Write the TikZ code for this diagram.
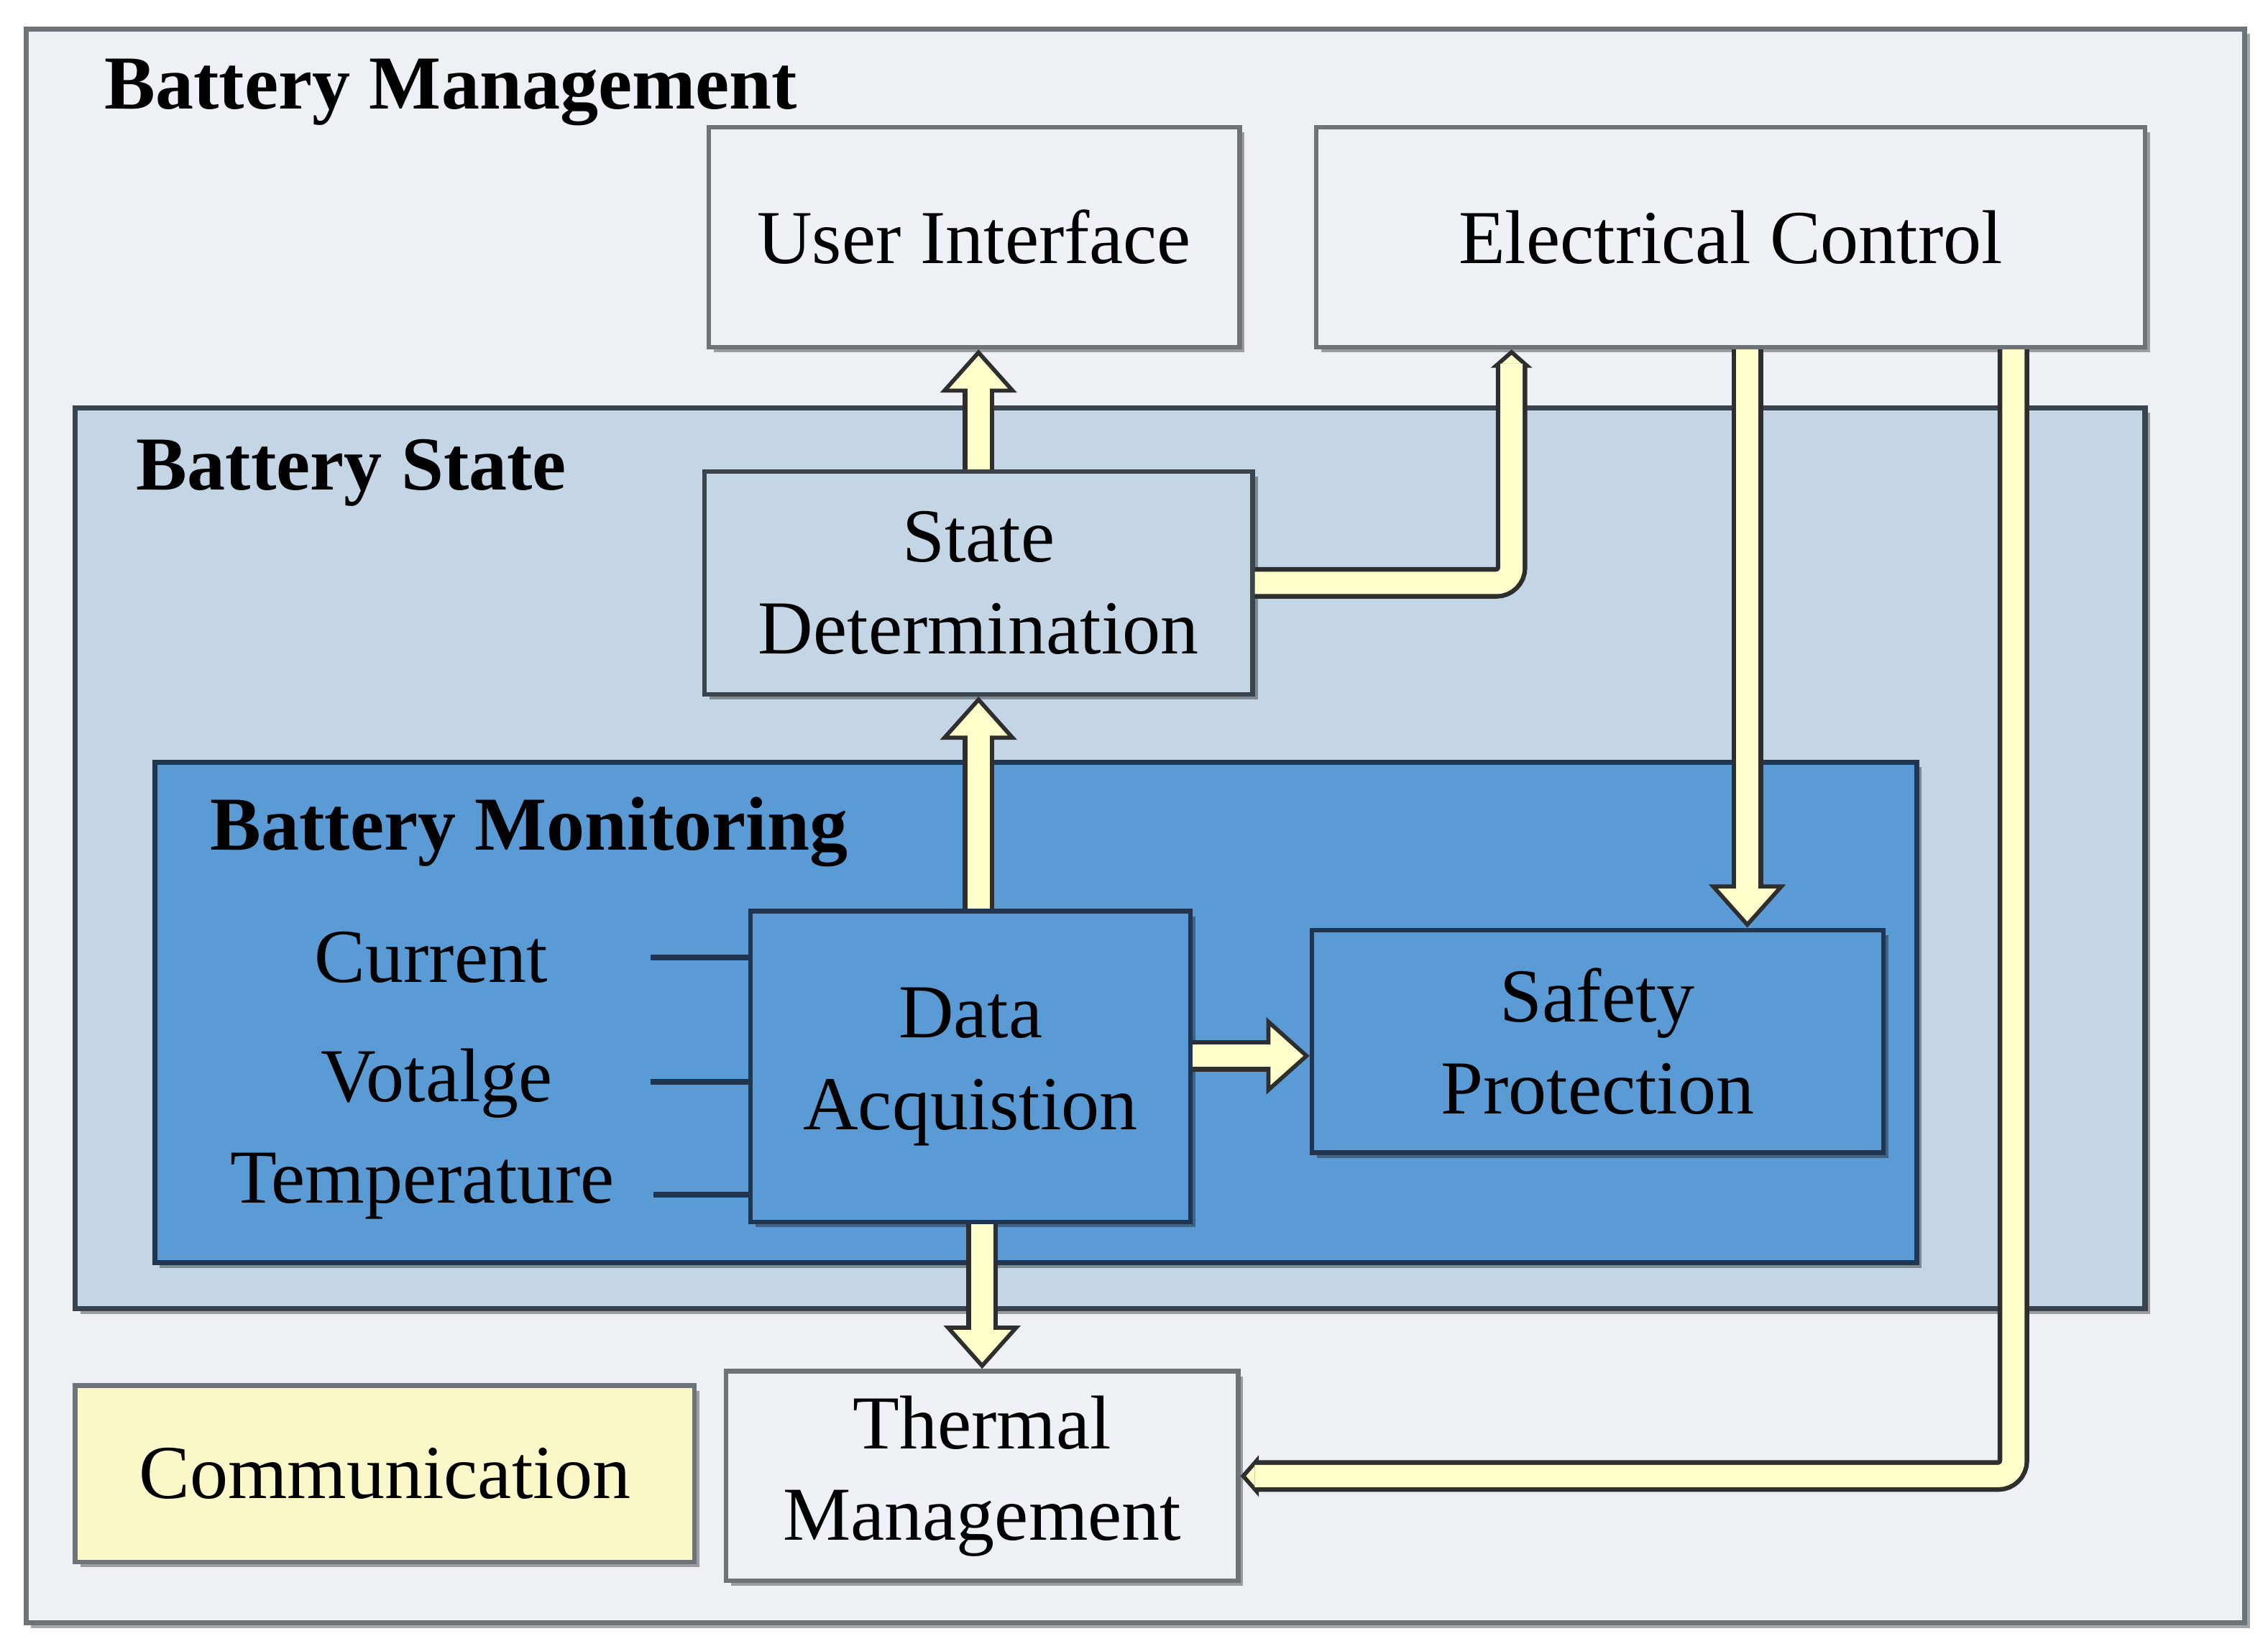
\documentclass[tikz,border=0pt]{standalone}
\usepackage{fontspec}
\setmainfont{Liberation Serif}
\usetikzlibrary{arrows.meta,shadows}
\definecolor{mgmtfill}{HTML}{EDF0F5}
\definecolor{lightfill}{HTML}{EEF1F6}
\definecolor{statefill}{HTML}{C4D5E5}
\definecolor{monfill}{HTML}{5B9BD5}
\definecolor{commfill}{HTML}{FAF7C8}
\definecolor{flowfill}{HTML}{FFFFCC}
\definecolor{flowline}{HTML}{2E2E2E}
\definecolor{greyline}{HTML}{6E7378}
\definecolor{stateline}{HTML}{3A444E}
\definecolor{monline}{HTML}{1F3550}

\begin{document}
\begin{tikzpicture}[x=0.1mm, y=-0.1mm, font=\fontsize{15}{18}\selectfont,
		shade/.style={drop shadow={shadow xshift=0.35mm, shadow yshift=-0.35mm, fill=black, opacity=0.35}},
		box/.style={draw=greyline, line width=0.9pt, fill=lightfill, align=center, inner sep=0pt, shade},
		title/.style={font=\fontsize{15}{18}\selectfont\bfseries, anchor=west},
		wire/.style={draw=monline, line width=1.1pt},
		fatarrow/.style={line width=4.4pt, draw=flowfill, shorten >=4.5pt,
			preaction={draw=flowline, line width=6.2pt, shorten >=0pt, -{Triangle[length=8.5pt, width=15pt, fill=flowfill, line width=0.8pt]}}},
		bentarrow/.style={line width=4.4pt, draw=flowfill, rounded corners=3pt, shorten >=2.8pt,
			preaction={draw=flowline, line width=6.2pt, shorten >=0pt, -{Triangle[length=3.6pt, width=8pt, fill=flowfill, line width=0.8pt]}}}]
	\useasboundingbox (0,0) rectangle (1568,1140);
	\draw[draw=greyline, line width=1pt, fill=mgmtfill, shade] (18,20) rectangle (1552,1122);
	\node[title] (tmgmt) at (60,64) {Battery Management};
	\node[box, minimum width=36.7mm, minimum height=15.2mm] (ui) at (673.5,164) {User Interface};
	\node[box, minimum width=57.3mm, minimum height=15.2mm] (ec) at (1196.5,164) {Electrical Control};
	\draw[draw=stateline, line width=1pt, fill=statefill, shade] (52,282) rectangle (1483,905);
	\node[title] (tstate) at (82,327) {Battery State};
	\node[box, draw=stateline, fill=statefill, minimum width=37.9mm, minimum height=15.4mm] (sd) at (676.5,403) {State\\Determination};
	\draw[draw=monline, line width=1pt, fill=monfill, shade] (107,527) rectangle (1325,873);
	\node[title] (tmon) at (133,575) {Battery Monitoring};
	\node[box, draw=monline, fill=monfill, minimum width=30.4mm, minimum height=21.5mm] (da) at (671,737.5) {Data\\Acquistion};
	\node[box, draw=monline, fill=monfill, minimum width=39.5mm, minimum height=15.4mm] (sp) at (1104.5,720) {Safety\\Protection};
	\node (cur) at (298,662) {Current};
	\node (vol) at (302,749) {Votalge};
	\node (temp) at (292,820) {Temperature};
	\coordinate (incur) at (450,662);
	\coordinate (invol) at (450,748);
	\coordinate (intemp) at (452,826);
	\draw[wire] (incur) -- (incur -| da.west);
	\draw[wire] (invol) -- (invol -| da.west);
	\draw[wire] (intemp) -- (intemp -| da.west);
	\node[box, fill=commfill, minimum width=42.8mm, minimum height=12.2mm] (comm) at (266,1019) {Communication};
	\node[box, minimum width=35.4mm, minimum height=14.5mm] (tm) at (679,1020.5) {Thermal\\Management};
	\draw[fatarrow] (sd.north) -- (sd.north |- ui.south);
	\draw[bentarrow] (sd.east) -| ([xshift=-15.15mm]ec.south);
	\draw[fatarrow] ([xshift=1.15mm]ec.south) -- ([xshift=1.15mm]ec.south |- sp.north);
	\draw[bentarrow] ([xshift=19.55mm]ec.south) |- (tm.east);
	\draw[fatarrow] (da.north -| sd.north) -- (sd.south);
	\draw[fatarrow] ([yshift=0.75mm]da.east) -- ([yshift=0.75mm]da.east -| sp.west);
	\draw[fatarrow] (tm.north |- da.south) -- (tm.north);
\end{tikzpicture}
\end{document}
